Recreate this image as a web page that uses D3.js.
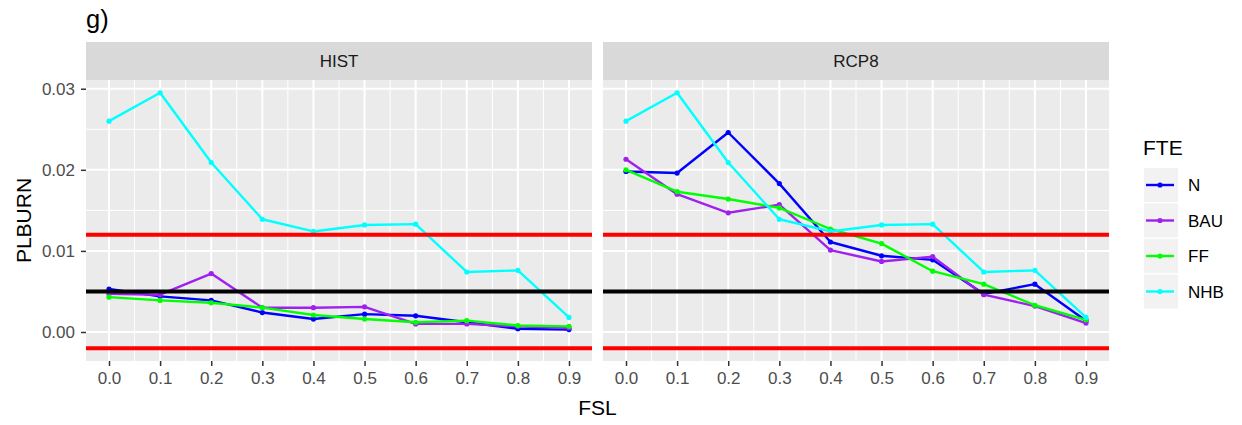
<!DOCTYPE html>
<html>
<head>
<meta charset="utf-8">
<script src="https://cdn.jsdelivr.net/npm/d3@7"></script>
<style>
  html, body { margin: 0; padding: 0; background: #fff; }
  svg { display: block; font-family: "Liberation Sans", Arial, sans-serif; }
</style>
</head>
<body>
<svg id="chart" width="1242" height="425"></svg>
<script>
// FSL levels along the x axis
const fsl = [0.0, 0.1, 0.2, 0.3, 0.4, 0.5, 0.6, 0.7, 0.8, 0.9];
const fslTickLabels = ["0.0", "0.1", "0.2", "0.3", "0.4", "0.5", "0.6", "0.7", "0.8", "0.9"];

// facets and FTE groups
const scenarios = ["HIST", "RCP8"];
const fteGroups = ["N", "BAU", "FF", "NHB"];

// PLBURN by FSL, HIST scenario
const histN   = [0.0053, 0.0044, 0.0039, 0.0024, 0.0016, 0.0022, 0.0020, 0.0012, 0.0004, 0.0003];
const histBAU = [0.0047, 0.0046, 0.0072, 0.0030, 0.0030, 0.0031, 0.0010, 0.0010, 0.0007, 0.0005];
const histFF  = [0.0043, 0.0039, 0.0036, 0.0030, 0.0021, 0.0016, 0.0012, 0.0014, 0.0008, 0.0007];
const histNHB = [0.0260, 0.0295, 0.0209, 0.0139, 0.0124, 0.0132, 0.0133, 0.0074, 0.0076, 0.0018];

// PLBURN by FSL, RCP8 scenario
const rcpN   = [0.0198, 0.0196, 0.0246, 0.0183, 0.0111, 0.0094, 0.0089, 0.0047, 0.0059, 0.0014];
const rcpBAU = [0.0213, 0.0170, 0.0147, 0.0157, 0.0101, 0.0087, 0.0093, 0.0046, 0.0032, 0.0011];
const rcpFF  = [0.0200, 0.0173, 0.0164, 0.0153, 0.0127, 0.0109, 0.0075, 0.0059, 0.0033, 0.0015];
const rcpNHB = [0.0260, 0.0295, 0.0209, 0.0139, 0.0124, 0.0132, 0.0133, 0.0074, 0.0076, 0.0018];

// reference thresholds
const redLevels = [0.012, -0.002];
const blackLevels = [0.005];

// y axis
const yTicks = [0.00, 0.01, 0.02, 0.03];
const yTickLabels = ["0.00", "0.01", "0.02", "0.03"];
const yMinor = [0.005, 0.015, 0.025];
const xMinor = [0.05, 0.15, 0.25, 0.35, 0.45, 0.55, 0.65, 0.75, 0.85];

const seriesByScenario = {
  HIST: { N: histN, BAU: histBAU, FF: histFF, NHB: histNHB },
  RCP8: { N: rcpN, BAU: rcpBAU, FF: rcpFF, NHB: rcpNHB }
};

const color = d3.scaleOrdinal()
  .domain(fteGroups)
  .range(["#0000FF", "#A020F0", "#00FF00", "#00FFFF"]);

// layout
const panelTop = 80, panelBottom = 361, stripTop = 42;
const panelX = { HIST: [86, 592], RCP8: [603, 1109] };

// ggplot-style 5% expansion of the data range (hlines included)
const allY = [].concat(histN, histBAU, histFF, histNHB, rcpN, rcpBAU, rcpFF, rcpNHB, redLevels, blackLevels);
const yLo = d3.min(allY), yHi = d3.max(allY);
const yPad = (yHi - yLo) * 0.05;
const y = d3.scaleLinear().domain([yLo - yPad, yHi + yPad]).range([panelBottom, panelTop]);

const xLo = d3.min(fsl), xHi = d3.max(fsl);
const xPad = (xHi - xLo) * 0.05;

const svg = d3.select("#chart");

scenarios.forEach((sc, si) => {
  const [x0, x1] = panelX[sc];
  const x = d3.scaleLinear().domain([xLo - xPad, xHi + xPad]).range([x0, x1]);
  const g = svg.append("g");

  // strip
  g.append("rect").attr("x", x0).attr("y", stripTop)
    .attr("width", x1 - x0).attr("height", panelTop - stripTop).attr("fill", "#D9D9D9");
  g.append("text").attr("x", (x0 + x1) / 2).attr("y", (stripTop + panelTop) / 2 + 6)
    .attr("text-anchor", "middle").attr("font-size", 17).attr("fill", "#1A1A1A").text(sc);

  // panel background
  g.append("rect").attr("x", x0).attr("y", panelTop)
    .attr("width", x1 - x0).attr("height", panelBottom - panelTop).attr("fill", "#EBEBEB");

  // grid
  g.selectAll(".ymin").data(yMinor).enter().append("line")
    .attr("x1", x0).attr("x2", x1).attr("y1", d => y(d)).attr("y2", d => y(d))
    .attr("stroke", "#fff").attr("stroke-width", 1);
  g.selectAll(".xmin").data(xMinor).enter().append("line")
    .attr("y1", panelTop).attr("y2", panelBottom).attr("x1", d => x(d)).attr("x2", d => x(d))
    .attr("stroke", "#fff").attr("stroke-width", 1);
  g.selectAll(".ymaj").data(yTicks).enter().append("line")
    .attr("x1", x0).attr("x2", x1).attr("y1", d => y(d)).attr("y2", d => y(d))
    .attr("stroke", "#fff").attr("stroke-width", 2);
  g.selectAll(".xmaj").data(fsl).enter().append("line")
    .attr("y1", panelTop).attr("y2", panelBottom).attr("x1", d => x(d)).attr("x2", d => x(d))
    .attr("stroke", "#fff").attr("stroke-width", 2);

  // series lines and points
  const line = d3.line().x((d, i) => x(fsl[i])).y(d => y(d));
  fteGroups.forEach(grp => {
    const vals = seriesByScenario[sc][grp];
    g.append("path").datum(vals).attr("d", line)
      .attr("fill", "none").attr("stroke", color(grp))
      .attr("stroke-width", 2.4).attr("stroke-linejoin", "round");
    g.selectAll(".pt-" + grp).data(vals).enter().append("circle")
      .attr("cx", (d, i) => x(fsl[i])).attr("cy", d => y(d)).attr("r", 2.6)
      .attr("fill", color(grp));
  });

  // threshold lines
  g.selectAll(".red").data(redLevels).enter().append("line")
    .attr("x1", x0).attr("x2", x1).attr("y1", d => y(d)).attr("y2", d => y(d))
    .attr("stroke", "#FF0000").attr("stroke-width", 4);
  g.selectAll(".black").data(blackLevels).enter().append("line")
    .attr("x1", x0).attr("x2", x1).attr("y1", d => y(d)).attr("y2", d => y(d))
    .attr("stroke", "#000").attr("stroke-width", 4);

  // x axis
  const xAxis = d3.axisBottom(x).tickValues(fsl)
    .tickFormat((d, i) => fslTickLabels[i]).tickSize(5).tickPadding(6);
  const ax = g.append("g").attr("transform", `translate(0,${panelBottom})`).call(xAxis);
  ax.select(".domain").remove();
  ax.selectAll(".tick line").attr("stroke", "#333").attr("stroke-width", 1.5);
  ax.selectAll(".tick text").attr("font-size", 17).attr("fill", "#4D4D4D")
    .attr("font-family", "Liberation Sans, Arial, sans-serif");

  // y axis on the first panel only
  if (si === 0) {
    const yAxis = d3.axisLeft(y).tickValues(yTicks)
      .tickFormat((d, i) => yTickLabels[i]).tickSize(5).tickPadding(6);
    const ay = g.append("g").attr("transform", `translate(${x0},0)`).call(yAxis);
    ay.select(".domain").remove();
    ay.selectAll(".tick line").attr("stroke", "#333").attr("stroke-width", 1.5);
    ay.selectAll(".tick text").attr("font-size", 17).attr("fill", "#4D4D4D")
      .attr("font-family", "Liberation Sans, Arial, sans-serif");
  }
});

// titles
svg.append("text").attr("x", 86).attr("y", 28).attr("font-size", 25.5).attr("fill", "#000").text("g)");
svg.append("text").attr("x", (86 + 1109) / 2).attr("y", 415)
  .attr("text-anchor", "middle").attr("font-size", 21).attr("fill", "#000").text("FSL");
svg.append("text").attr("transform", `translate(31,${(panelTop + panelBottom) / 2}) rotate(-90)`)
  .attr("text-anchor", "middle").attr("font-size", 21).attr("fill", "#000").text("PLBURN");

// legend
const lg = svg.append("g");
lg.append("text").attr("x", 1143).attr("y", 155).attr("font-size", 21).attr("fill", "#000").text("FTE");
const keyTop = 168, keyH = 34, keyGap = 1.5, keyX = 1144, keyW = 34;
fteGroups.forEach((grp, i) => {
  const ky = keyTop + i * (keyH + keyGap);
  lg.append("rect").attr("x", keyX).attr("y", ky).attr("width", keyW).attr("height", keyH).attr("fill", "#F2F2F2");
  lg.append("line").attr("x1", keyX + 2).attr("x2", keyX + keyW - 4)
    .attr("y1", ky + keyH / 2).attr("y2", ky + keyH / 2)
    .attr("stroke", color(grp)).attr("stroke-width", 2.4);
  lg.append("circle").attr("cx", keyX + keyW / 2 - 1).attr("cy", ky + keyH / 2).attr("r", 2.6).attr("fill", color(grp));
  lg.append("text").attr("x", 1188).attr("y", ky + keyH / 2 + 6).attr("font-size", 17).attr("fill", "#000").text(grp);
});
</script>
</body>
</html>
